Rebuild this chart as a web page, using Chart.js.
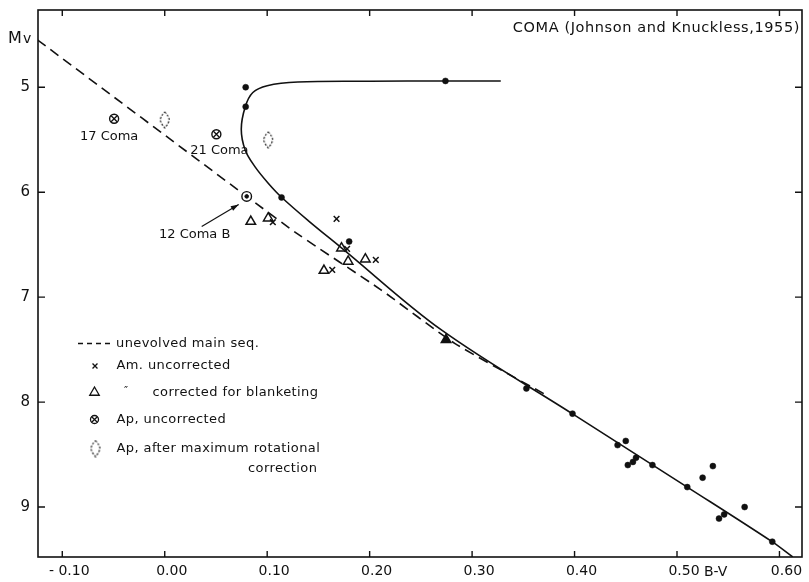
<!DOCTYPE html>
<html><head><meta charset="utf-8">
<script src="https://cdn.jsdelivr.net/npm/chart.js@4.4.1/dist/chart.umd.min.js"></script>
<style>html,body{margin:0;padding:0;background:#fff;overflow:hidden}#wrap{position:relative;width:809px;height:582px}</style>
</head><body><div id="wrap"><canvas id="c" width="809" height="582"></canvas></div>
<script>
// ---- axis ticks ----
const xTickValues = [-0.10, 0.00, 0.10, 0.20, 0.30, 0.40, 0.50, 0.60];
const xTickLabels = ['- 0.10', '0.00', '0.10', '0.20', '0.30', '0.40', '0.50', '0.60'];
const yTickValues = [5, 6, 7, 8, 9];
const yTickLabels = ['5', '6', '7', '8', '9'];

// ---- solid curve (evolved sequence) ----
const curveX = [0.328, 0.274, 0.20, 0.13, 0.10, 0.086, 0.0786, 0.0747, 0.0786, 0.088, 0.101, 0.114, 0.140, 0.1725, 0.2697, 0.3977, 0.51, 0.5927, 0.613];
const curveY = [4.94, 4.94, 4.943, 4.95, 4.985, 5.05, 5.185, 5.40, 5.60, 5.756, 5.914, 6.048, 6.27, 6.53, 7.31, 8.11, 8.81, 9.33, 9.476];

// ---- dashed unevolved main sequence ----
const zamsX = [-0.124, 0.08, 0.13, 0.211, 0.283, 0.37];
const zamsY = [4.55, 6.04, 6.40, 6.93, 7.44, 7.92];

// ---- filled dots ----
const dotX = [0.079, 0.079, 0.274, 0.114, 0.180, 0.353, 0.398, 0.442, 0.450, 0.452, 0.457, 0.460, 0.476, 0.510, 0.525, 0.535, 0.541, 0.546, 0.566, 0.593];
const dotY = [5.00, 5.185, 4.94, 6.05, 6.47, 7.87, 8.11, 8.41, 8.37, 8.60, 8.57, 8.53, 8.60, 8.81, 8.72, 8.61, 9.11, 9.07, 9.00, 9.33];

// ---- Am. uncorrected (x) ----
const amX = [0.1055, 0.1677, 0.178, 0.206, 0.1635];
const amY = [6.286, 6.254, 6.54, 6.645, 6.74];

// ---- Am. corrected for blanketing (triangles) ----
const amCorrX = [0.084, 0.101, 0.1725, 0.179, 0.1958, 0.1554];
const amCorrY = [6.28, 6.248, 6.533, 6.66, 6.638, 6.747];
const amCorrFilledX = [0.2746];
const amCorrFilledY = [7.407];

// ---- Ap uncorrected (circled x) ----
const apNames = ['17 Coma', '21 Coma'];
const apX = [-0.0494, 0.0504];
const apY = [5.30, 5.448];

// ---- 12 Coma B (circled dot) ----
const comaBNames = ['12 Coma B'];
const comaBX = [0.080];
const comaBY = [6.04];

// ---- Ap after maximum rotational correction (dotted diamonds) ----
const apRotX = [0.000, 0.101];
const apRotY = [5.31, 5.50];

const FF = '"DejaVu Sans", sans-serif';
const pts = (xs, ys) => xs.map((x, i) => ({x, y: ys[i]}));

// dotted diamond marker
function makeDiamond() {
  const c = document.createElement('canvas');
  c.width = 12; c.height = 18;
  const g = c.getContext('2d');
  g.strokeStyle = '#000'; g.lineWidth = 1.1;
  g.setLineDash([2, 1.6]);
  g.beginPath();
  g.moveTo(6, 1); g.quadraticCurveTo(10.5, 6, 10.5, 9.5);
  g.quadraticCurveTo(9, 14, 6, 17); g.quadraticCurveTo(3, 14, 1.5, 9.5);
  g.quadraticCurveTo(1.5, 6, 6, 1);
  g.stroke();
  return c;
}
const diamondImg = makeDiamond();

const decor = {
  id: 'decor',
  afterDraw(chart) {
    const {ctx, chartArea: a, scales: {x, y}} = chart;
    ctx.save();
    // frame
    ctx.strokeStyle = '#111'; ctx.lineWidth = 1.6;
    ctx.strokeRect(a.left, a.top, a.right - a.left, a.bottom - a.top);
    // inward ticks on all four sides
    ctx.lineWidth = 1.4; ctx.beginPath();
    xTickValues.forEach(v => {
      const p = x.getPixelForValue(v);
      ctx.moveTo(p, a.bottom); ctx.lineTo(p, a.bottom - 6);
      ctx.moveTo(p, a.top); ctx.lineTo(p, a.top + 6);
    });
    yTickValues.forEach(v => {
      const p = y.getPixelForValue(v);
      ctx.moveTo(a.left, p); ctx.lineTo(a.left + 7, p);
      ctx.moveTo(a.right, p); ctx.lineTo(a.right - 7, p);
    });
    ctx.stroke();

    ctx.fillStyle = '#111';
    // Mv
    ctx.textBaseline = 'alphabetic'; ctx.textAlign = 'left';
    ctx.font = '16px ' + FF; ctx.fillText('M', 8, 43);
    ctx.font = '14px ' + FF; ctx.fillText('v', 23, 43);
    // B-V
    ctx.textBaseline = 'middle';
    ctx.font = '14px ' + FF;
    ctx.fillText('B-V', x.getPixelForValue(0.5) + 27, a.bottom + 15);
    // title
    ctx.font = '14.5px ' + FF;
    try { ctx.letterSpacing = '0.6px'; } catch (e) {}
    ctx.textAlign = 'right';
    ctx.fillText('COMA (Johnson and Knuckless,1955)', a.right - 2, 28);
    ctx.textAlign = 'center';

    // annotations
    ctx.font = '13px ' + FF;
    try { ctx.letterSpacing = '0px'; } catch (e) {}
    const p17 = [x.getPixelForValue(apX[0]), y.getPixelForValue(apY[0])];
    ctx.fillText(apNames[0], p17[0] - 5, p17[1] + 18);
    const p21 = [x.getPixelForValue(apX[1]), y.getPixelForValue(apY[1])];
    ctx.fillText(apNames[1], p21[0] + 3, p21[1] + 16);
    const pB = [x.getPixelForValue(comaBX[0]), y.getPixelForValue(comaBY[0])];
    ctx.fillText(comaBNames[0], pB[0] - 52, pB[1] + 38);
    // arrow
    const tx = pB[0] - 45, ty = pB[1] + 30, hx = pB[0] - 8, hy = pB[1] + 8;
    ctx.lineWidth = 1.2; ctx.strokeStyle = '#111';
    ctx.beginPath(); ctx.moveTo(tx, ty); ctx.lineTo(hx, hy); ctx.stroke();
    const ang = Math.atan2(hy - ty, hx - tx);
    ctx.beginPath();
    ctx.moveTo(hx, hy);
    ctx.lineTo(hx - 8 * Math.cos(ang) + 2.6 * Math.sin(ang), hy - 8 * Math.sin(ang) - 2.6 * Math.cos(ang));
    ctx.lineTo(hx - 8 * Math.cos(ang) - 2.6 * Math.sin(ang), hy - 8 * Math.sin(ang) + 2.6 * Math.cos(ang));
    ctx.closePath(); ctx.fill();

    // legend
    const H = Chart.helpers;
    ctx.textAlign = 'left'; ctx.textBaseline = 'middle';
    ctx.font = '13px ' + FF;
    try { ctx.letterSpacing = '0.4px'; } catch (e) {}
    ctx.lineWidth = 1.3;
    ctx.setLineDash([5, 4]);
    ctx.beginPath(); ctx.moveTo(78, 343.5); ctx.lineTo(113, 343.5); ctx.stroke();
    ctx.setLineDash([]);
    ctx.fillText('unevolved main seq.', 116, 343.5);
    ctx.strokeStyle = '#111'; ctx.fillStyle = '#111';
    H.drawPoint(ctx, {pointStyle: 'crossRot', radius: 3.5, borderWidth: 1.4, rotation: 0}, 95, 366);
    ctx.fillText('Am. uncorrected', 116.5, 366);
    ctx.fillStyle = '#fff';
    H.drawPoint(ctx, {pointStyle: 'triangle', radius: 5.5, borderWidth: 1.4, rotation: 0}, 94.5, 392.5);
    ctx.fillStyle = '#111';
    ctx.font = '11px ' + FF; ctx.fillText('\u2033', 124, 391);
    ctx.font = '13px ' + FF;
    ctx.fillText('corrected for blanketing', 152.5, 392.5);
    ctx.fillStyle = '#fff';
    H.drawPoint(ctx, {pointStyle: 'circle', radius: 4, borderWidth: 1.3, rotation: 0}, 94.5, 419.5);
    H.drawPoint(ctx, {pointStyle: 'crossRot', radius: 4, borderWidth: 1.2, rotation: 0}, 94.5, 419.5);
    ctx.fillStyle = '#111';
    ctx.fillText('Ap, uncorrected', 116.5, 419.5);
    ctx.drawImage(diamondImg, 95.5 - 6, 448.5 - 9);
    ctx.fillText('Ap, after maximum rotational', 116.5, 448.5);
    ctx.fillText('correction', 248, 468.5);
    ctx.restore();
  }
};

const zeroPad = s => { s.paddingTop = 0; s.paddingBottom = 0; s.paddingLeft = 0; s.paddingRight = 0; };
const black = '#111';
new Chart(document.getElementById('c'), {
  type: 'scatter',
  data: {
    datasets: [
      {label: 'Am uncorrected', data: pts(amX, amY), pointStyle: 'crossRot', pointRadius: 4, borderColor: black, borderWidth: 1.5, order: 1},
      {label: 'Ap uncorrected x', data: pts(apX, apY), pointStyle: 'crossRot', pointRadius: 4.2, borderColor: black, borderWidth: 1.3, order: 2},
      {label: 'Ap uncorrected o', data: pts(apX, apY), pointStyle: 'circle', pointRadius: 4.5, borderColor: black, backgroundColor: '#fff', borderWidth: 1.4, order: 3},
      {label: '12 Coma B dot', data: pts(comaBX, comaBY), pointStyle: 'circle', pointRadius: 1.8, borderColor: black, backgroundColor: black, borderWidth: 1, order: 2},
      {label: '12 Coma B ring', data: pts(comaBX, comaBY), pointStyle: 'circle', pointRadius: 4.8, borderColor: black, backgroundColor: '#fff', borderWidth: 1.4, order: 3},
      {label: 'Am corrected', data: pts(amCorrX, amCorrY), pointStyle: 'triangle', pointRadius: 5.5, borderColor: black, backgroundColor: 'rgba(255,255,255,0)', borderWidth: 1.5, order: 4},
      {label: 'Am corrected filled', data: pts(amCorrFilledX, amCorrFilledY), pointStyle: 'triangle', pointRadius: 5.5, borderColor: black, backgroundColor: black, borderWidth: 1.5, order: 4},
      {label: 'Ap rotational', data: pts(apRotX, apRotY), pointStyle: diamondImg, pointRadius: 6, order: 4},
      {label: 'photometry', data: pts(dotX, dotY), pointStyle: 'circle', pointRadius: 3, borderColor: black, backgroundColor: black, borderWidth: 0.5, order: 5},
      {label: 'curve', type: 'line', data: pts(curveX, curveY), showLine: true, fill: false, tension: 0.35, pointRadius: 0, borderColor: black, borderWidth: 1.6, order: 6},
      {label: 'unevolved main seq.', type: 'line', data: pts(zamsX, zamsY), showLine: true, fill: false, tension: 0.2, pointRadius: 0, borderColor: black, borderWidth: 1.6, borderDash: [10, 6], order: 7}
    ]
  },
  options: {
    responsive: false,
    animation: false,
    events: [],
    layout: {padding: {top: 10, right: 3, left: 0, bottom: 0}},
    plugins: {legend: {display: false}, tooltip: {enabled: false}},
    scales: {
      x: {
        type: 'linear', min: -0.1237, max: 0.622, offset: false,
        grid: {display: false, drawTicks: false}, border: {display: false},
        afterBuildTicks: s => { s.ticks = xTickValues.map(v => ({value: v})); },
        afterFit: s => { s.height = 25; zeroPad(s); },
        ticks: {
          padding: 6, labelOffset: 7, color: black, maxRotation: 0, autoSkip: false,
          font: {family: FF, size: 14},
          callback: (v, i) => xTickLabels[i]
        }
      },
      y: {
        type: 'linear', reverse: true, min: 4.264, max: 9.476,
        grid: {display: false, drawTicks: false}, border: {display: false},
        afterBuildTicks: s => { s.ticks = yTickValues.map(v => ({value: v})); },
        afterFit: s => { s.width = 38; zeroPad(s); },
        ticks: {
          padding: 8, color: black, autoSkip: false,
          font: {family: FF, size: 15},
          callback: (v, i) => yTickLabels[i]
        }
      }
    }
  },
  plugins: [decor]
});
</script>
</body></html>
